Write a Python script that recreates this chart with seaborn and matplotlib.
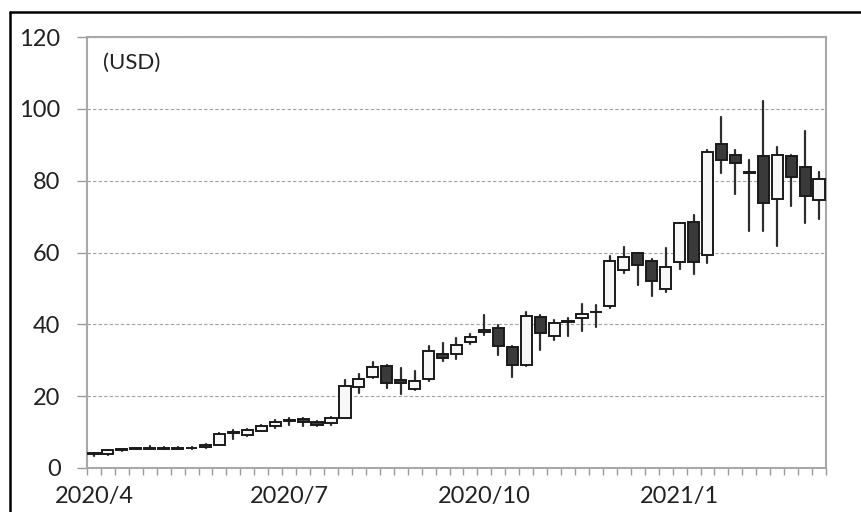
import numpy as np
import pandas as pd
import matplotlib.pyplot as plt
from matplotlib.lines import Line2D
import seaborn as sns

# weekly candles, 2020/4 - 2021/4 (USD)
weeks = pd.date_range('2020-04-03', periods=53, freq='7D')
opens = [4.1, 3.8, 5.2, 5.4, 5.4, 5.5, 5.4, 5.5, 5.8, 6.5,
         9.7, 9.2, 10.4, 11.6, 13.1, 13.7, 12.9, 12.5, 14.0, 22.6,
         25.3, 28.5, 24.6, 22.0, 24.9, 31.7, 31.7, 35.1, 37.8, 39.0,
         33.8, 28.8, 42.0, 36.8, 40.7, 41.7, 43.3, 45.2, 55.0, 59.8,
         57.6, 49.8, 57.4, 68.4, 59.3, 90.3, 87.1, 82.4, 87.0, 75.0,
         87.0, 83.7, 74.6]
highs = [4.2, 5.0, 5.3, 5.5, 6.2, 5.8, 5.9, 5.8, 6.6, 9.8,
         10.6, 10.8, 11.9, 13.3, 13.8, 13.9, 13.2, 14.3, 24.5, 26.1,
         29.6, 28.7, 27.9, 27.1, 34.0, 34.7, 36.3, 37.3, 42.6, 39.8,
         34.0, 43.5, 42.7, 41.3, 41.7, 45.8, 45.4, 58.9, 61.4, 60.0,
         58.2, 61.2, 68.2, 70.5, 88.4, 97.7, 88.4, 85.8, 102.3, 89.3,
         87.2, 93.9, 82.3]
lows = [3.4, 3.7, 4.6, 5.2, 5.2, 5.2, 5.2, 5.4, 5.6, 6.4,
        8.2, 8.8, 10.2, 11.2, 12.0, 11.8, 11.7, 12.1, 13.8, 20.8,
        25.0, 22.2, 20.6, 21.7, 24.2, 29.7, 30.3, 34.5, 36.9, 31.6,
        25.2, 28.3, 32.8, 35.5, 36.7, 38.2, 39.2, 44.5, 54.3, 51.0,
        47.8, 49.1, 55.4, 54.0, 57.2, 82.0, 76.4, 66.0, 66.0, 61.8,
        72.9, 68.3, 69.2]
closes = [3.9, 4.9, 5.0, 5.3, 5.5, 5.4, 5.5, 5.6, 6.4, 9.6,
          9.9, 10.5, 11.6, 12.9, 13.3, 12.8, 12.1, 14.0, 22.7, 24.9,
          28.2, 23.8, 23.6, 24.2, 32.7, 30.5, 34.3, 36.4, 38.4, 34.0,
          28.8, 42.3, 37.5, 40.3, 40.9, 43.0, 43.5, 57.6, 58.7, 56.6,
          52.1, 56.1, 68.1, 57.4, 88.0, 85.8, 85.0, 82.1, 73.9, 87.2,
          81.1, 75.6, 80.5]
label_every = 14

df = pd.DataFrame({'week': weeks, 'open': opens, 'high': highs,
                   'low': lows, 'close': closes})
df['idx'] = np.arange(len(df))
df['up'] = df['close'] >= df['open']

# long form for the wicks (one low-high segment per week)
wicks = pd.concat([df[['idx', 'low']].rename(columns={'low': 'price'}),
                   df[['idx', 'high']].rename(columns={'high': 'price'})])

sns.set_theme(style='white')
plt.rcParams['font.family'] = ['Lato', 'DejaVu Sans']

fig = plt.figure(figsize=(8.62, 5.12), dpi=100)
ax = fig.add_axes([87 / 862, 44 / 512, 739 / 862, 431 / 512])

sns.lineplot(data=wicks, x='idx', y='price', units='idx', estimator=None,
             color='#2e2e2e', linewidth=1.6, ax=ax, legend=False)

body_lo = np.minimum(df['open'], df['close'])
body_h = np.maximum(np.abs(df['close'] - df['open']), 0.15)
colors = np.where(df['up'], '#f7f7f7', '#3a3a3a')
ax.bar(df['idx'], body_h, bottom=body_lo, width=0.8, color=colors,
       edgecolor='#1a1a1a', linewidth=1.4, zorder=3)

ax.set_xlim(-0.5, len(df) - 0.5)
ax.set_ylim(0, 120)
ax.set_yticks(range(0, 121, 20))
ax.yaxis.grid(True, linestyle=(0, (3, 2)), color='#a0a0a0', linewidth=0.8)
ax.xaxis.grid(False)

lab_pos = df['idx'][::label_every]
ax.set_xticks(lab_pos)
ax.set_xticklabels([f'{d.year}/{d.month}' for d in df['week'][::label_every]])
ax.set_xticks(np.arange(-0.5, len(df), 1), minor=True)
ax.tick_params(axis='x', which='major', length=0, pad=13, labelsize=17,
               labelcolor='#222222')
ax.tick_params(axis='x', which='minor', bottom=True, length=5,
               width=1, color='#9a9a9a')
ax.tick_params(axis='y', left=True, length=7, width=1, color='#9a9a9a',
               pad=12, labelsize=17, labelcolor='#222222')
ax.set_xlabel('')
ax.set_ylabel('')

for s in ax.spines.values():
    s.set_visible(True)
    s.set_color('#a8a8a8')
    s.set_linewidth(1.5)

ax.text(0.022, 0.94, '(USD)', transform=ax.transAxes, fontsize=16,
        color='#222222', va='center', ha='left')

# outer frame (top and left edges only, as cropped)
fig.add_artist(Line2D([10 / 862, 1], [1 - 12 / 512, 1 - 12 / 512],
                      transform=fig.transFigure, color='black', linewidth=1.8))
fig.add_artist(Line2D([10 / 862, 10 / 862], [0, 1 - 12 / 512],
                      transform=fig.transFigure, color='black', linewidth=1.8))

fig.savefig('out.png', dpi=100)
